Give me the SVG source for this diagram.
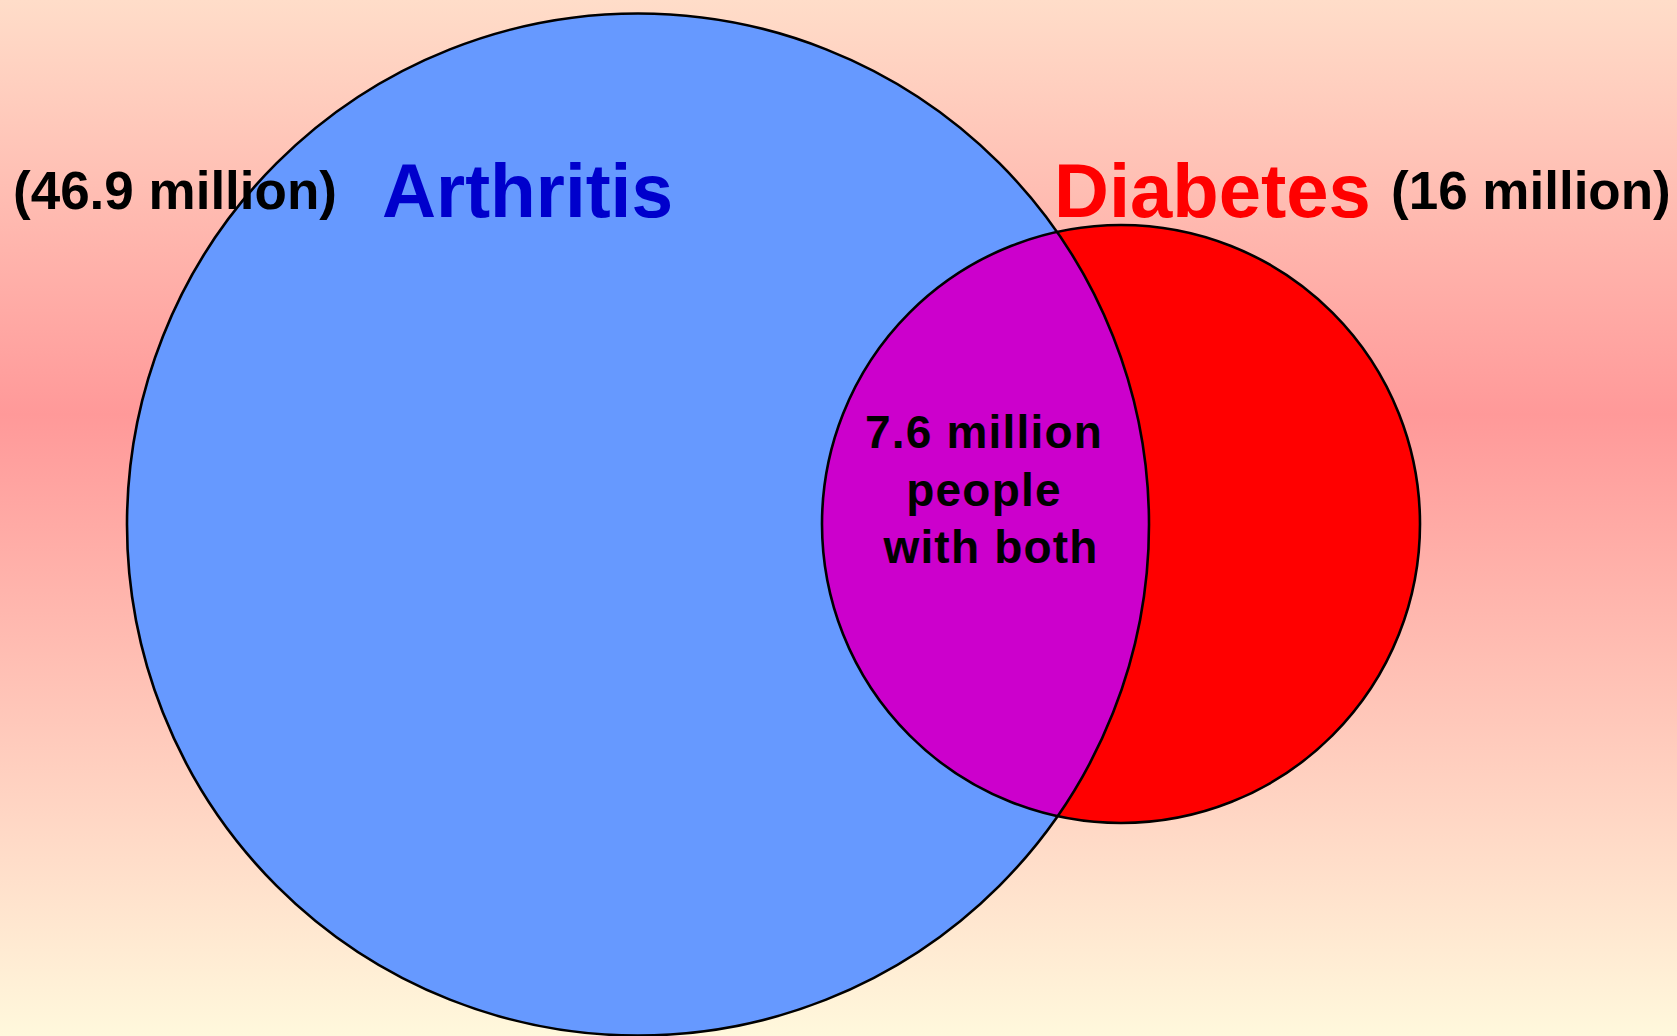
<svg xmlns="http://www.w3.org/2000/svg" width="1677" height="1036" viewBox="0 0 1677 1036">
  <defs>
    <linearGradient id="bg" x1="0" y1="0" x2="0" y2="1">
      <stop offset="0" stop-color="#FFDDC9"/>
      <stop offset="0.4" stop-color="#FF9999"/>
      <stop offset="1" stop-color="#FFF8DC"/>
    </linearGradient>
    <clipPath id="bigClip">
      <circle cx="638" cy="524.5" r="511"/>
    </clipPath>
  </defs>
  <style>
    .lbl { font-family: "Liberation Sans", Arial, sans-serif; font-weight: bold; }
    .count { font-size: 53px; fill: #000000; }
    .title { font-size: 76px; }
    .outline { fill: none; stroke: #000000; stroke-width: 2.6; }
  </style>
  <rect x="0" y="0" width="1677" height="1036" fill="url(#bg)"/>

  <g id="arthritis">
    <circle cx="638" cy="524.5" r="511" fill="#6699FF"/>
  </g>
  <g id="diabetes">
    <circle cx="1121" cy="524" r="299" fill="#FF0000"/>
  </g>
  <g id="both">
    <circle cx="1121" cy="524" r="299" fill="#CC00CC" clip-path="url(#bigClip)"/>
  </g>
  <g id="outlines">
    <circle class="outline" cx="638" cy="524.5" r="511"/>
    <circle class="outline" cx="1121" cy="524" r="299"/>
  </g>

  <g id="labels">
    <text class="lbl count" x="13" y="209">(46.9 million)</text>
    <text class="lbl title" x="382" y="217" fill="#0000CC" textLength="291" lengthAdjust="spacingAndGlyphs">Arthritis</text>
    <text class="lbl title" x="1054" y="217" fill="#FF0000">Diabetes</text>
    <text class="lbl count" x="1391" y="209">(16 million)</text>
    <text class="lbl" font-size="46" text-anchor="middle" letter-spacing="1.2" fill="#000000">
      <tspan x="991" y="448">7.6 million</tspan>
      <tspan x="991" y="506">people</tspan>
      <tspan x="991" y="563">with both</tspan>
    </text>
  </g>
</svg>
